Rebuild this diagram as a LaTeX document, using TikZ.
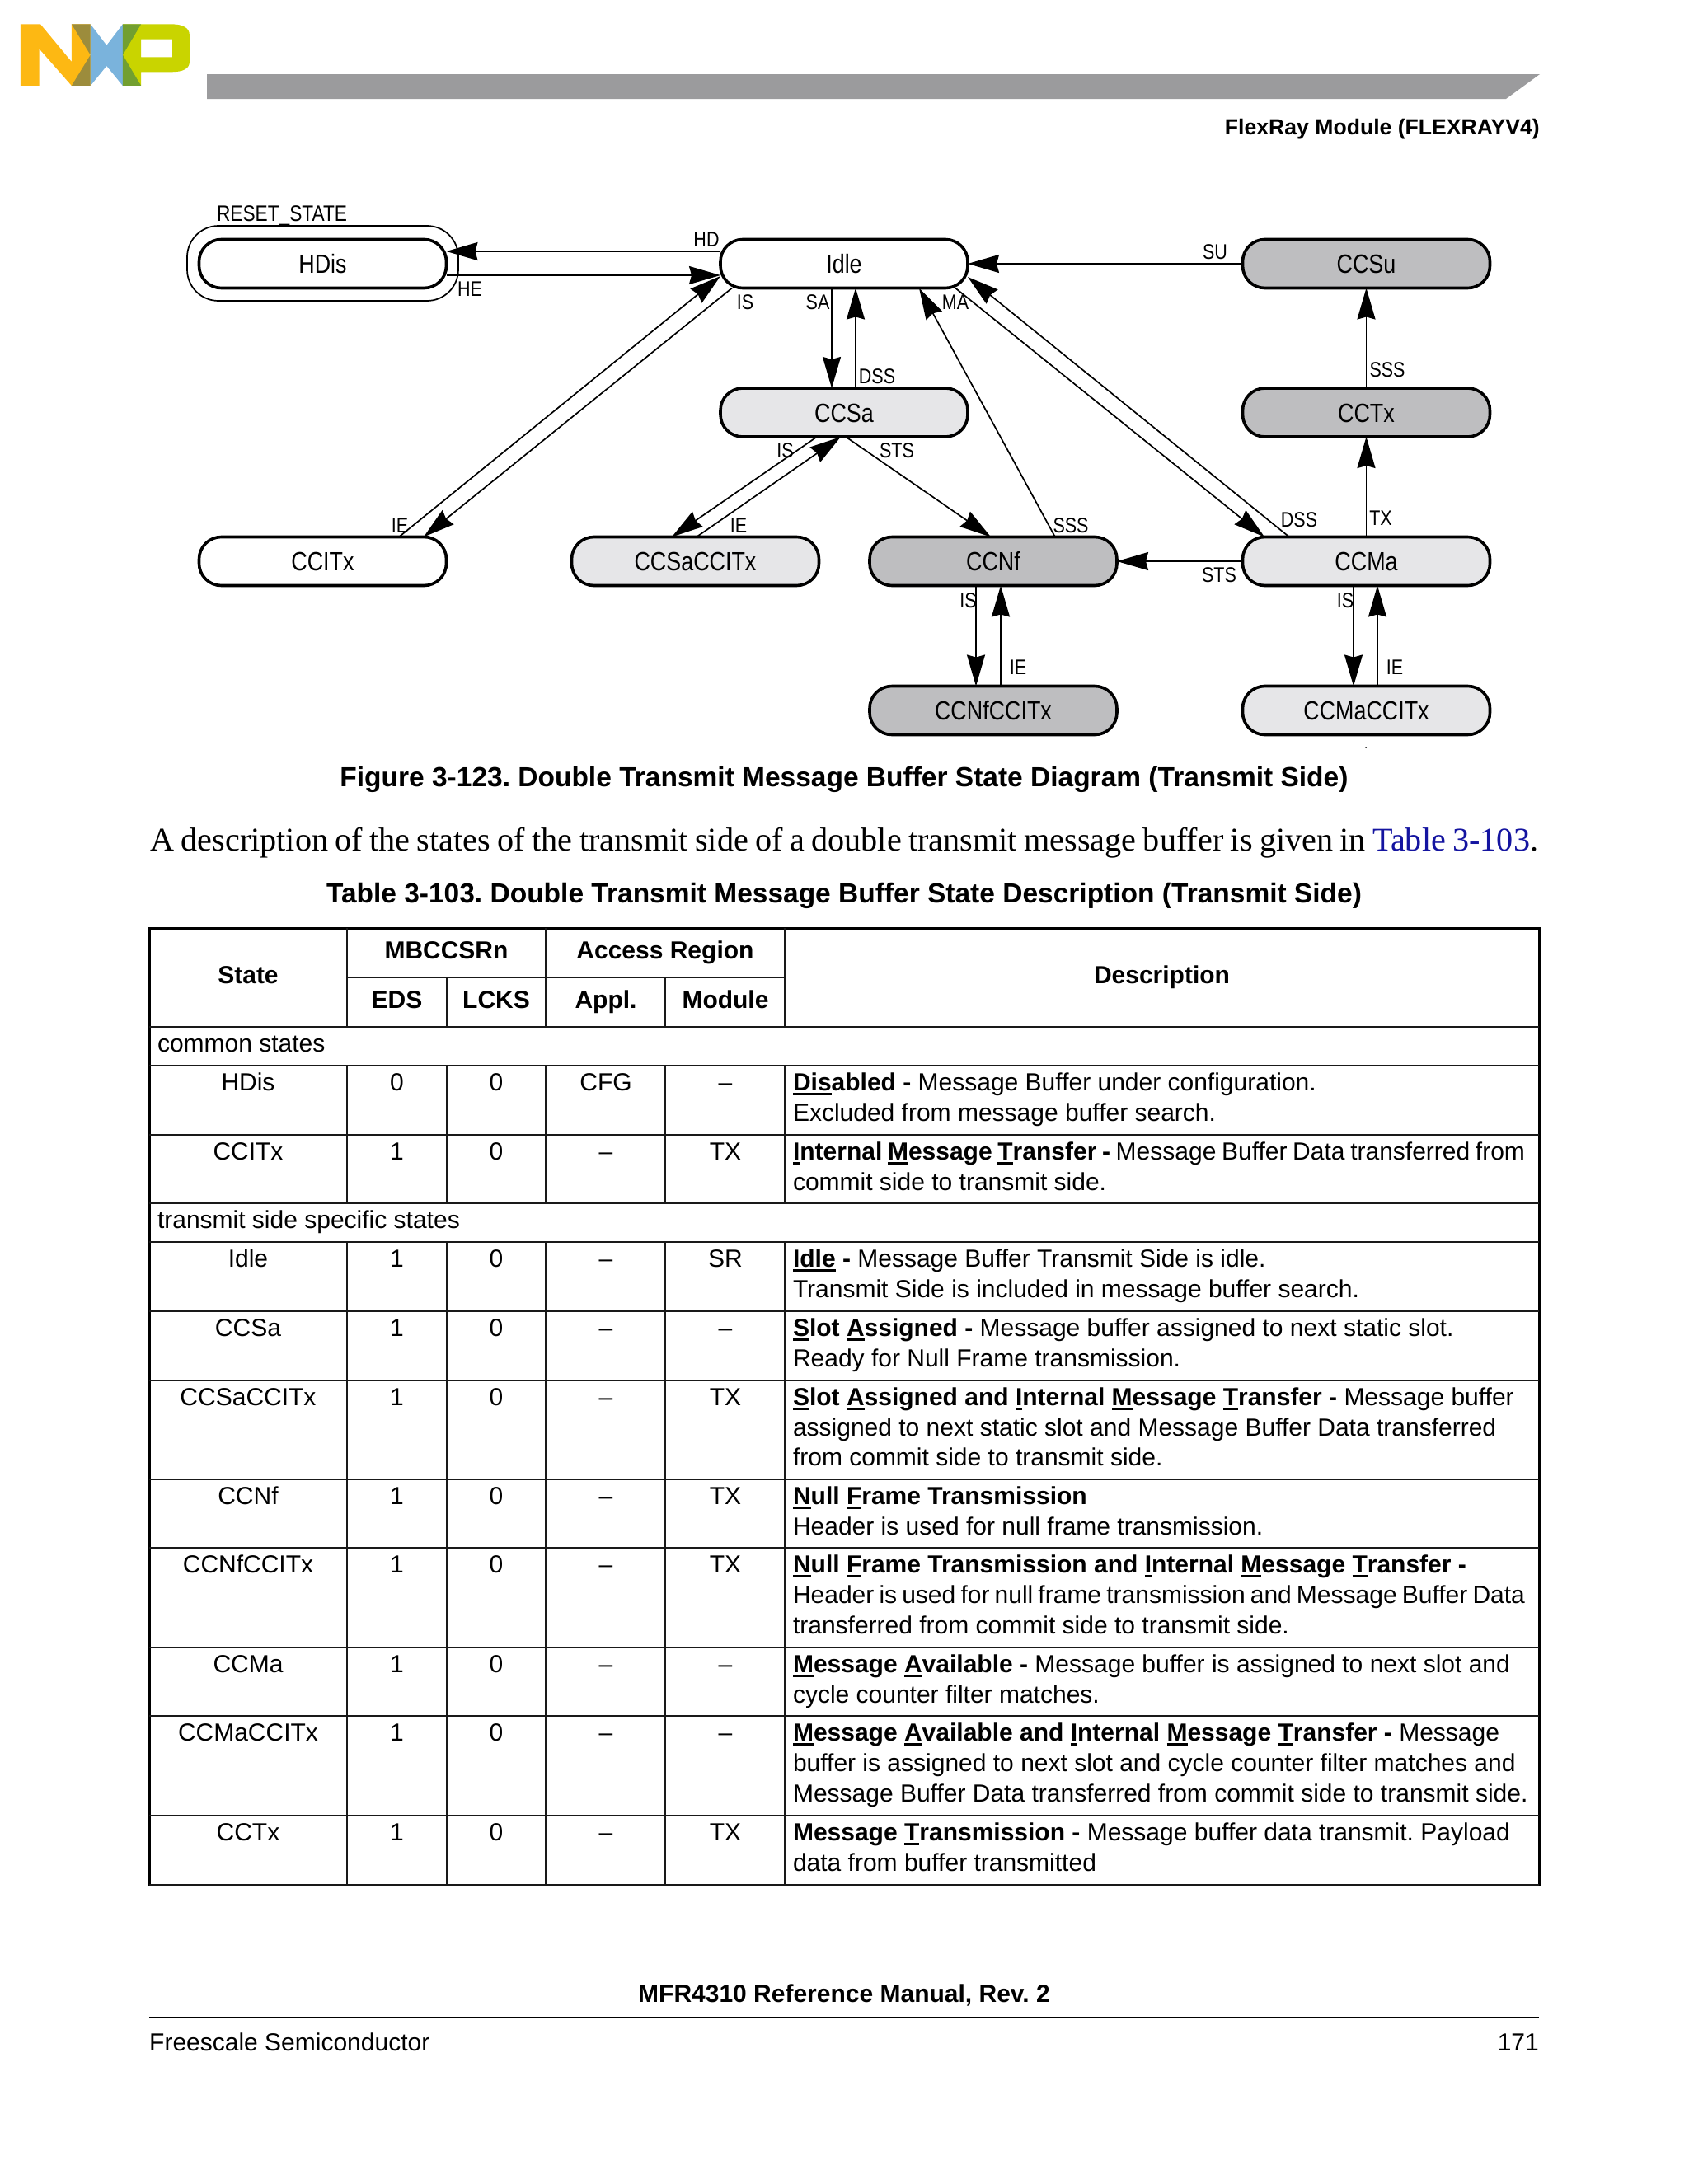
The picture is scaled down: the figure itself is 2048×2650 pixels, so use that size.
\documentclass[tikz,border=0pt]{standalone}
\usepackage{fontspec}
\setmainfont{Liberation Sans}
\newfontfamily\diagfont[FakeStretch=0.84]{Liberation Sans}
\newfontfamily\serifbody{Liberation Serif}
\usetikzlibrary{arrows.meta}
\definecolor{lightfill}{HTML}{E6E6E8}
\definecolor{darkfill}{HTML}{BEBEC0}
\definecolor{barfill}{HTML}{9B9B9D}
\definecolor{linkblue}{HTML}{1414A0}
\definecolor{nxporange}{HTML}{FDB813}
\definecolor{nxpblue}{HTML}{7AB3DC}
\definecolor{nxplime}{HTML}{C9D400}
\definecolor{nxpolive}{HTML}{9C8C3C}
\definecolor{nxpgreen}{HTML}{729F30}
\newcommand\ulc[1]{\setbox0=\hbox{#1}\rlap{\vrule height -3.2pt depth 5.6pt width \wd0}\box0\relax}
\newcommand\tsize{\fontsize{30}{36.6}\selectfont}
\AtBeginDocument{\frenchspacing}
\tikzset{
  state/.style={draw=black,line width=3.6pt,rectangle,rounded corners=27pt,minimum width=300pt,minimum height=59pt,
    inner sep=0pt,outer sep=0pt,text height=23pt,text depth=0pt,font=\diagfont\fontsize{32}{34}\selectfont},
  plain/.style={state,fill=white},
  light/.style={state,fill=lightfill},
  dark/.style={state,fill=darkfill},
  lbl/.style={inner sep=0pt,outer sep=0pt,anchor=base,font=\diagfont\fontsize{25.6}{28}\selectfont},
  conn/.style={draw=black,line width=1.7pt,-{Stealth[length=38pt,width=22pt,inset=3pt]}},
  cell/.style={inner sep=0pt,outer sep=0pt,anchor=base,font=\tsize},
  head/.style={inner sep=0pt,outer sep=0pt,anchor=base,font=\tsize\bfseries},
  desc/.style={inner sep=0pt,outer sep=0pt,anchor=base west,font=\tsize},
  rule/.style={draw=black!90,line width=2.2pt},
}
\newcommand\trow[7]{%
  \node[cell] (st#1) at (301,#2+30) {#3};
  \node[cell] (ed#1) at (481.5,#2+30) {#4};
  \node[cell] (lc#1) at (602,#2+30) {0};
  \node[cell] (ap#1) at (735,#2+30) {#5};
  \node[cell] (mo#1) at (880,#2+30) {#6};
  \draw[rule] (181,#7) -- (1867,#7);
}
\newcommand\dl[3]{\node[desc] (#1) at (962,#2) {#3};}
\begin{document}
\begin{tikzpicture}[x=1pt,y=-1pt]
\fill[white] (0,0) rectangle (2048,2650);
\useasboundingbox (0,0) rectangle (2048,2650);
% logo
\begin{scope}[x=0.6532pt,y=-0.3333pt]
\fill[nxporange] (38,88) -- (75,88) -- (133,225) -- (133,88) -- (168,88) -- (168,312) -- (133,312) -- (73,178) -- (73,312) -- (38,312) -- cycle;
\fill[nxplime,even odd rule] (228,88) -- (318,88) .. controls (340,88) and (352,102) .. (352,128) -- (352,225) .. controls (352,250) and (340,262) .. (318,262) -- (262,262) -- (262,312) -- (228,312) -- cycle
  (262,143) -- (262,208) -- (320,208) -- (320,143) -- cycle;
\fill[nxpblue] (168,88) -- (198,165) -- (228,88) -- (228,312) -- (198,240) -- (168,312) -- cycle;
\fill[nxpolive] (133,88) -- (168,88) -- (168,200) -- cycle;
\fill[nxpolive] (133,312) -- (168,312) -- (168,200) -- cycle;
\fill[nxpgreen] (228,88) -- (262,88) -- (228,200) -- cycle;
\fill[nxpgreen] (228,312) -- (262,312) -- (228,200) -- cycle;
\end{scope}
% header
\fill[barfill] (251,90) -- (1868,90) -- (1827,120) -- (251,120) -- cycle;
\node[inner sep=0pt,anchor=base east,font=\fontsize{26.6}{30}\selectfont\bfseries] (hdr) at (1868,163) {FlexRay Module (FLEXRAYV4)};
% diagram
\node[draw=black,line width=1.7pt,rectangle,rounded corners=38pt,minimum width=329pt,minimum height=91pt,outer sep=0pt,inner sep=0pt] (resetbox) at (391.5,319.5) {};
\node[plain] (HDis) at (391.5,320) {HDis};
\node[plain] (Idle) at (1024,320) {Idle};
\node[dark] (CCSu) at (1657.5,320) {CCSu};
\node[light] (CCSa) at (1024,500.5) {CCSa};
\node[dark] (CCTx) at (1657.5,500.5) {CCTx};
\node[plain] (CCITx) at (391.5,681) {CCITx};
\node[light] (CCSaCCITx) at (843.5,681) {CCSaCCITx};
\node[dark] (CCNf) at (1205,681) {CCNf};
\node[light] (CCMa) at (1657.5,681) {CCMa};
\node[dark] (CCNfCCITx) at (1205,862) {CCNfCCITx};
\node[light] (CCMaCCITx) at (1657.5,862) {CCMaCCITx};
\draw[conn] ([yshift=15pt]Idle.west) -- ([yshift=15pt]HDis.east);
\draw[conn] ([yshift=-14pt]HDis.east) -- ([yshift=-14pt]Idle.west);
\draw[conn] ([xshift=92.5pt]CCITx.north) -- ([yshift=-15pt]Idle.west);
\draw[conn] ([xshift=-136pt]Idle.south) -- ([xshift=122.5pt]CCITx.north);
\draw[conn] ([xshift=-15pt]Idle.south) -- ([xshift=-15pt]CCSa.north);
\draw[conn] ([xshift=14pt]CCSa.north) -- ([xshift=14pt]Idle.south);
\draw[conn] (CCSu.west) -- (Idle.east);
\draw[conn] (CCTx.north) -- (CCSu.south);
\draw[conn] (CCMa.north) -- (CCTx.south);
\draw[conn] ([xshift=75pt]CCNf.north) -- ([xshift=91pt]Idle.south);
\draw[conn] ([xshift=135pt]Idle.south) -- ([xshift=-123.5pt]CCMa.north);
\draw[conn] ([xshift=-93.5pt]CCMa.north) -- ([yshift=-16pt]Idle.east);
\draw[conn] ([xshift=2pt]CCSa.south) -- ([xshift=-3pt]CCNf.north);
\draw[conn] ([xshift=-33pt]CCSa.south) -- ([xshift=-28.5pt]CCSaCCITx.north);
\draw[conn] ([xshift=1.5pt]CCSaCCITx.north) -- ([xshift=-4pt]CCSa.south);
\draw[conn] (CCMa.west) -- (CCNf.east);
\draw[conn] ([xshift=-21pt]CCNf.south) -- ([xshift=-21pt]CCNfCCITx.north);
\draw[conn] ([xshift=9pt]CCNfCCITx.north) -- ([xshift=9pt]CCNf.south);
\draw[conn] ([xshift=-15.5pt]CCMa.south) -- ([xshift=-15.5pt]CCMaCCITx.north);
\draw[conn] ([xshift=13.5pt]CCMaCCITx.north) -- ([xshift=13.5pt]CCMa.south);
\node[lbl,font=\diagfont\fontsize{27}{28}\selectfont] (lreset) at (342,268) {RESET\_STATE};
\node[lbl] (lhd) at (857,299) {HD};
\node[lbl] (lhe) at (570,359) {HE};
\node[lbl] (lis1) at (904,375) {IS};
\node[lbl] (lsa) at (992,375) {SA};
\node[lbl] (ldss1) at (1064,465) {DSS};
\node[lbl] (lma) at (1159,375) {MA};
\node[lbl] (lsu) at (1474,314) {SU};
\node[lbl] (lsss1) at (1683,457) {SSS};
\node[lbl] (lsts1) at (1088,555) {STS};
\node[lbl] (lis2) at (952.5,555) {IS};
\node[lbl] (lie1) at (485,646) {IE};
\node[lbl] (lie2) at (896,646) {IE};
\node[lbl] (lsss2) at (1299,646) {SSS};
\node[lbl] (ldss2) at (1576,639) {DSS};
\node[lbl] (ltx) at (1675,637) {TX};
\node[lbl] (lsts2) at (1479,706) {STS};
\node[lbl] (lis3) at (1174.5,737) {IS};
\node[lbl] (lis4) at (1632,737) {IS};
\node[lbl] (lie3) at (1235,818) {IE};
\node[lbl] (lie4) at (1692,818) {IE};
\fill (1657,907) circle (1pt);
% captions
\node[inner sep=0pt,anchor=base,font=\fontsize{33.5}{36}\selectfont\bfseries] (figcap) at (1024,954) {Figure 3-123. Double Transmit Message Buffer State Diagram (Transmit Side)};
\node[inner sep=0pt,anchor=base west,font=\serifbody\fontsize{40.2}{44}\selectfont] (para) at (182,1032) {\hbox to 1684pt{\spaceskip=0.17em plus 1em minus 0.05em A description of the states of the transmit side of a double transmit message buffer is given in \textcolor{linkblue}{Table 3-103}.}};
\node[inner sep=0pt,anchor=base,font=\fontsize{33.5}{36}\selectfont\bfseries] (tabcap) at (1024,1095) {Table 3-103. Double Transmit Message Buffer State Description (Transmit Side)};
% table
\draw[draw=black,line width=3pt] (181,1126) rectangle (1867,2287);
\draw[rule] (421,1186) -- (952,1186);
\draw[rule] (181,1246) -- (1867,1246);
\draw[rule] (181,1293) -- (1867,1293);
\draw[rule] (181,1377) -- (1867,1377);
\draw[rule] (181,1460) -- (1867,1460);
\draw[rule] (181,1507) -- (1867,1507);
\draw[rule] (181,1591) -- (1867,1591);
\draw[rule] (421,1126) -- (421,1246) (421,1293) -- (421,1460) (421,1507) -- (421,2287);
\draw[rule] (542,1186) -- (542,1246) (542,1293) -- (542,1460) (542,1507) -- (542,2287);
\draw[rule] (662,1126) -- (662,1246) (662,1293) -- (662,1460) (662,1507) -- (662,2287);
\draw[rule] (807,1186) -- (807,1246) (807,1293) -- (807,1460) (807,1507) -- (807,2287);
\draw[rule] (952,1126) -- (952,1246) (952,1293) -- (952,1460) (952,1507) -- (952,2287);
\node[head] (hstate) at (301,1193) {State};
\node[head] (hmb) at (541.5,1163) {MBCCSRn};
\node[head] (hacc) at (807,1163) {Access Region};
\node[head] (heds) at (481.5,1223) {EDS};
\node[head] (hlcks) at (602,1223) {LCKS};
\node[head] (happl) at (735,1223) {Appl.};
\node[head] (hmod) at (880,1223) {Module};
\node[head] (hdesc) at (1409.5,1193) {Description};
\node[desc] (common) at (191,1276) {common states};
\node[desc] (specific) at (191,1490) {transmit side specific states};
\trow{a}{1293}{HDis}{0}{CFG}{–}{1377}
\trow{b}{1377}{CCITx}{1}{–}{TX}{1460}
\trow{c}{1507}{Idle}{1}{–}{SR}{1591}
\trow{d}{1591}{CCSa}{1}{–}{–}{1675}
\trow{e}{1675}{CCSaCCITx}{1}{–}{TX}{1795}
\trow{f}{1795}{CCNf}{1}{–}{TX}{1878}
\trow{g}{1878}{CCNfCCITx}{1}{–}{TX}{1999}
\trow{h}{1999}{CCMa}{1}{–}{–}{2082}
\trow{i}{2082}{CCMaCCITx}{1}{–}{–}{2203}
\trow{j}{2203}{CCTx}{1}{–}{TX}{2287}
\dl{a1}{1323}{\textbf{\ulc{Dis}abled -} Message Buffer under configuration.}
\dl{a2}{1360}{Excluded from message buffer search.}
\dl{b1}{1407}{\hbox to 888pt{\spaceskip=0.22em plus 1em minus 0.1em \textbf{\ulc{I}nternal \ulc{M}essage \ulc{T}ransfer -} Message Buffer Data transferred from}}
\dl{b2}{1444}{commit side to transmit side.}
\dl{c1}{1537}{\textbf{\ulc{Idle} -} Message Buffer Transmit Side is idle.}
\dl{c2}{1574}{Transmit Side is included in message buffer search.}
\dl{d1}{1621}{\textbf{\ulc{S}lot \ulc{A}ssigned -} Message buffer assigned to next static slot.}
\dl{d2}{1658}{Ready for Null Frame transmission.}
\dl{e1}{1705}{\textbf{\ulc{S}lot \ulc{A}ssigned and \ulc{I}nternal \ulc{M}essage \ulc{T}ransfer -} Message buffer}
\dl{e2}{1742}{assigned to next static slot and Message Buffer Data transferred}
\dl{e3}{1778}{from commit side to transmit side.}
\dl{f1}{1825}{\textbf{\ulc{N}ull \ulc{F}rame Transmission}}
\dl{f2}{1862}{Header is used for null frame transmission.}
\dl{g1}{1908}{\textbf{\ulc{N}ull \ulc{F}rame Transmission and \ulc{I}nternal \ulc{M}essage \ulc{T}ransfer -}}
\dl{g2}{1945}{\hbox to 888pt{\spaceskip=0.2em plus 1em minus 0.2em Header is used for null frame transmission and Message Buffer Data}}
\dl{g3}{1982}{transferred from commit side to transmit side.}
\dl{h1}{2029}{\textbf{\ulc{M}essage \ulc{A}vailable -} Message buffer is assigned to next slot and}
\dl{h2}{2066}{cycle counter filter matches.}
\dl{i1}{2112}{\textbf{\ulc{M}essage \ulc{A}vailable and \ulc{I}nternal \ulc{M}essage \ulc{T}ransfer -} Message}
\dl{i2}{2149}{buffer is assigned to next slot and cycle counter filter matches and}
\dl{i3}{2186}{Message Buffer Data transferred from commit side to transmit side.}
\dl{j1}{2233}{\textbf{Message \ulc{T}ransmission -} Message buffer data transmit. Payload}
\dl{j2}{2270}{data from buffer transmitted}
% footer
\node[inner sep=0pt,anchor=base,font=\fontsize{30}{36}\selectfont\bfseries] (ftitle) at (1024,2429) {MFR4310 Reference Manual, Rev. 2};
\draw[draw=black,line width=2.6pt] (181,2448) -- (1867,2448);
\node[inner sep=0pt,anchor=base west,font=\tsize] (fleft) at (181,2488) {Freescale Semiconductor};
\node[inner sep=0pt,anchor=base east,font=\tsize] (fright) at (1867,2488) {171};
\end{tikzpicture}
\end{document}
